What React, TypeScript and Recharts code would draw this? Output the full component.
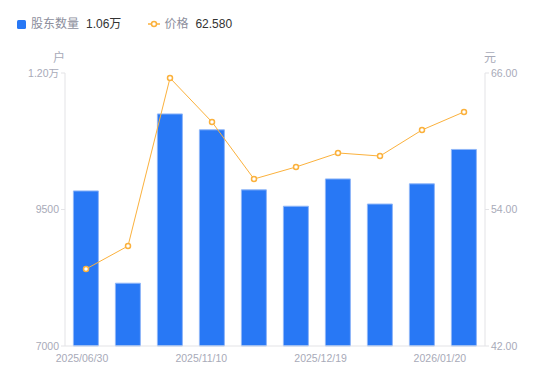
import React from 'react';
import {
  ComposedChart,
  Bar,
  Line,
  XAxis,
  YAxis,
} from 'recharts';

const DATES = [
  '2025/06/30', '2025/09/30', '2025/10/20', '2025/11/10', '2025/11/20',
  '2025/11/30', '2025/12/19', '2025/12/31', '2026/01/10', '2026/01/20',
];
const HOLDERS = [9840, 8150, 11250, 10960, 9860, 9560, 10060, 9600, 9970, 10600];
const PRICES = [48.77, 50.79, 65.56, 61.69, 56.68, 57.74, 58.97, 58.7, 60.99, 62.58];
const LEFT_TICKS = [7000, 9500, 12000];
const RIGHT_TICKS = [42, 54, 66];

const data = DATES.map((d, i) => ({ date: d, holders: HOLDERS[i], price: PRICES[i] }));

const BLUE = '#2878f5';
const ORANGE = '#fbb13c';
const AXIS = '#e3e3e6';
const TICK = '#a8aab8';
const FONT = '"Liberation Sans", Arial, "Noto Sans CJK SC", sans-serif';

const fmtLeft = (v: number) => (v >= 10000 ? `${(v / 10000).toFixed(2)}万` : `${v}`);

// echarts-like spreading of the few shown date labels
const DateTick = ({ x, y, payload }: any) => {
  const k = payload.index / 3;
  return (
    <text x={x - 4 - k * 6.7} y={y + 8} textAnchor="middle" fill={TICK} fontSize={10.5} fontFamily={FONT}>
      {payload.value}
    </text>
  );
};

const App: React.FC = () => {
  const last = data.length - 1;
  return (
    <div style={{ position: 'fixed', left: 0, top: 0, width: 550, height: 381, fontFamily: FONT, background: '#fff' }}>
      {/* legend */}
      <div style={{ position: 'absolute', left: 17, top: 15, display: 'flex', alignItems: 'center', fontSize: 12, lineHeight: '18px' }}>
        <span style={{ width: 9, height: 9, background: BLUE, borderRadius: 1.5, marginRight: 5 }} />
        <span style={{ color: '#8c8e9c', marginRight: 7 }}>股东数量</span>
        <span style={{ color: '#333' }}>{fmtLeft(HOLDERS[last])}</span>
        <svg width={12} height={8} style={{ marginLeft: 27, marginRight: 4 }}>
          <line x1={0} y1={4} x2={12} y2={4} stroke={ORANGE} strokeWidth={1.5} />
          <circle cx={6} cy={4} r={2.5} fill="#fff" stroke={ORANGE} strokeWidth={1.5} />
        </svg>
        <span style={{ color: '#8c8e9c', marginRight: 7 }}>价格</span>
        <span style={{ color: '#333' }}>{PRICES[last].toFixed(3)}</span>
      </div>
      <div style={{ position: 'absolute', left: 53, top: 48, fontSize: 12, color: TICK }}>户</div>
      <div style={{ position: 'absolute', left: 484, top: 48, fontSize: 12, color: TICK }}>元</div>
      <ComposedChart
        width={550}
        height={381}
        data={data}
        margin={{ top: 73, right: 5, left: 5, bottom: 5 }}
        barCategoryGap="20%"
        style={{ fontFamily: FONT }}
      >
        <XAxis
          dataKey="date"
          interval={2}
          height={30}
          tickLine={false}
          axisLine={{ stroke: AXIS }}
          tick={<DateTick />}
        />
        <YAxis
          yAxisId="left"
          width={60}
          domain={[7000, 12000]}
          ticks={LEFT_TICKS}
          tickFormatter={fmtLeft}
          axisLine={{ stroke: AXIS }}
          tickLine={{ stroke: AXIS }}
          tickSize={4}
          tick={{ fill: TICK, fontSize: 10.5 }}
        />
        <YAxis
          yAxisId="right"
          orientation="right"
          width={60}
          domain={[42, 66]}
          ticks={RIGHT_TICKS}
          tickFormatter={(v: number) => v.toFixed(2)}
          axisLine={{ stroke: AXIS }}
          tickLine={{ stroke: AXIS }}
          tickSize={4}
          tick={{ fill: TICK, fontSize: 10.5 }}
        />
        <Bar
          yAxisId="left"
          dataKey="holders"
          fill={BLUE}
          stroke="#8fb6f8"
          strokeWidth={1}
          isAnimationActive={false}
        />
        <Line
          yAxisId="right"
          dataKey="price"
          type="linear"
          stroke={ORANGE}
          strokeWidth={1}
          dot={{ r: 2.5, fill: '#fff', stroke: ORANGE, strokeWidth: 1.5 }}
          activeDot={false}
          isAnimationActive={false}
        />
      </ComposedChart>
    </div>
  );
};

export default App;
